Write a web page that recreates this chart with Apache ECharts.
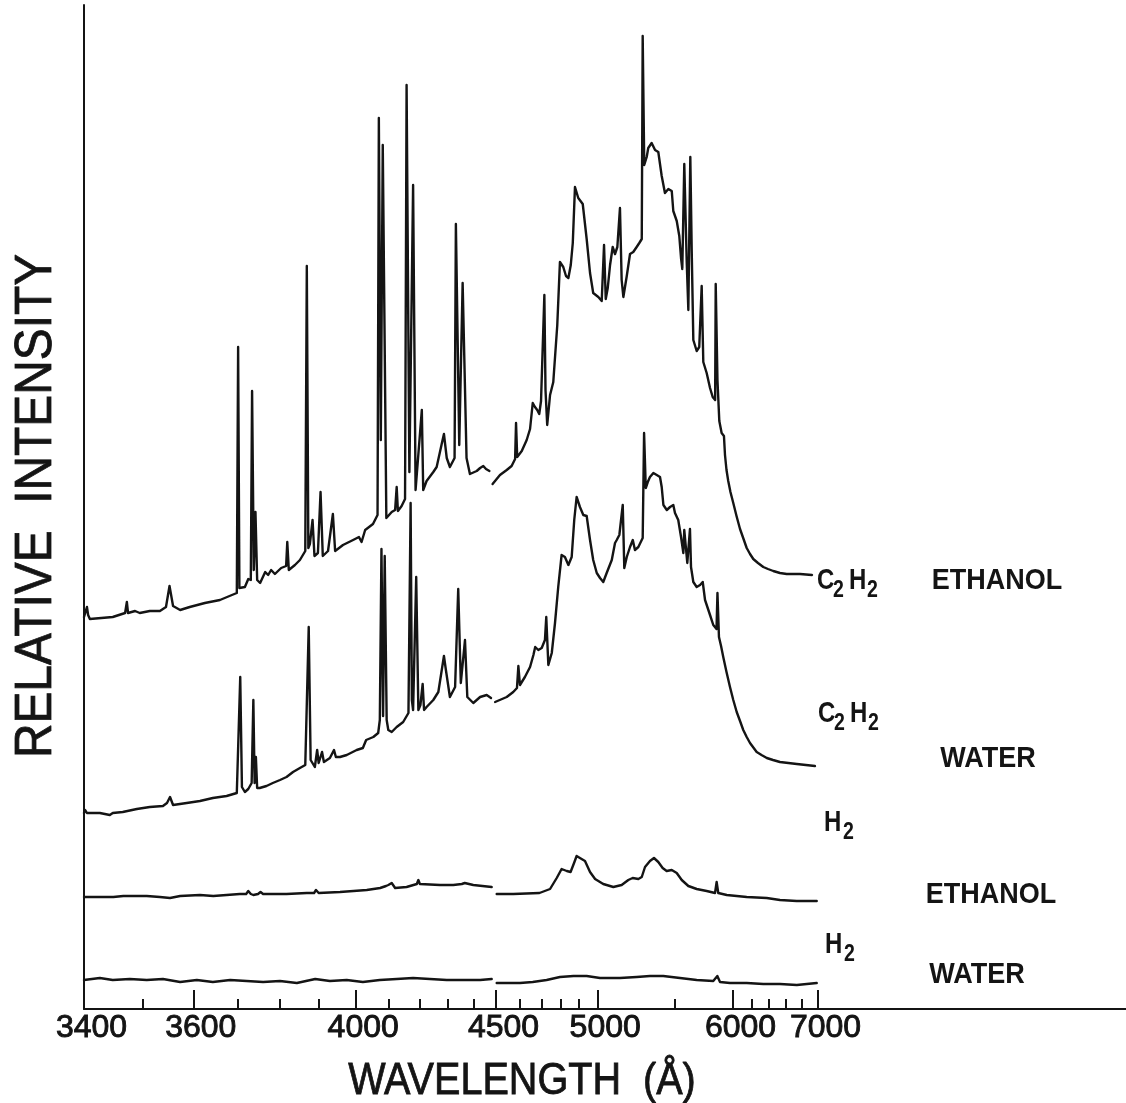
<!DOCTYPE html>
<html>
<head>
<meta charset="utf-8">
<script src="https://cdn.jsdelivr.net/npm/echarts@6/dist/echarts.min.js"></script>
<style>
  html, body { margin: 0; padding: 0; background: #ffffff; }
  #chart { width: 1126px; height: 1103px; }
</style>
</head>
<body>
<div id="chart"></div>
<script>
// Spectrometer dispersion: wavelength (Å) against distance along the recorder chart.
const dispersionWavelength = [3400, 3500, 3600, 3700, 3800, 3900, 4000, 4100, 4200, 4300, 4400, 4500,
  4600, 4700, 4800, 4900, 5000, 5500, 6000, 6200, 6400, 6600, 6800, 7000];
const dispersionDistance = [0, 58.7, 109.3, 153.7, 196, 234.3, 271.7, 304.3, 335.3, 363.3, 389.3, 412,
  435.3, 457.7, 476.7, 495, 513.7, 591, 649, 667.5, 684.5, 701.5, 718, 734];

// Tick marks on the wavelength axis
const labelledTicks = [3400, 3600, 4000, 4500, 5000, 6000, 7000];
const minorTicks = [3500, 3700, 3800, 3900, 4100, 4200, 4300, 4400, 4600, 4700, 4800, 4900,
  5500, 6200, 6400, 6600, 6800];

// Emission spectra, [wavelength Å, relative intensity]; each trace was recorded
// in two scans (below and above 4500 Å), each set on its own offset.
const c2h2EthanolShort = [[3400,39.2],[3405,40.2],[3407,39.4],[3410,39.0],[3449,39.2],[3470,39.6],[3473,40.7],[3475,39.6],[3487,39.8],[3495,39.6],[3514,39.8],[3534,39.8],[3546,40.2],[3553,42.3],[3556,42.3],[3560,40.3],[3574,39.9],[3593,40.2],[3626,40.6],[3660,40.9],[3687,41.4],[3698,41.6],[3701,66.2],[3704,42.1],[3717,42.2],[3725,43.0],[3731,42.9],[3734,61.8],[3738,43.9],[3742,49.7],[3746,42.9],[3753,42.6],[3765,43.7],[3772,43.4],[3779,43.9],[3788,43.5],[3803,44.1],[3816,44.3],[3819,46.7],[3823,43.9],[3839,44.4],[3852,44.9],[3866,45.8],[3870,74.3],[3874,46.1],[3878,46.5],[3885,48.9],[3890,45.3],[3899,45.6],[3906,51.7],[3912,45.3],[3926,45.8],[3939,49.5],[3945,45.8],[3966,46.4],[3993,46.9],[4010,47.2],[4018,46.7],[4029,47.9],[4053,48.5],[4067,49.4],[4071,89.1],[4077,56.9],[4083,86.4],[4094,49.1],[4111,49.7],[4122,49.9],[4127,52.2],[4131,49.8],[4143,50.3],[4154,51.0],[4159,92.4],[4168,53.7],[4180,82.4],[4188,51.9],[4193,51.9],[4209,59.9],[4214,51.9],[4226,52.8],[4250,53.7],[4262,54.2],[4280,56.5],[4288,57.5],[4298,55.1],[4310,54.2],[4328,55.1],[4333,78.5],[4346,56.4],[4359,72.6],[4374,55.1],[4387,53.5],[4415,53.8],[4430,54.1],[4444,54.3],[4456,54.0],[4471,53.8]];
const c2h2EthanolLong = [[4485,52.5],[4517,53.4],[4546,53.9],[4567,54.3],[4582,55.0],[4586,58.6],[4591,55.2],[4611,55.8],[4633,56.9],[4648,58.0],[4660,60.6],[4670,60.2],[4680,59.9],[4689,59.5],[4697,60.8],[4714,71.4],[4720,61.9],[4729,58.4],[4744,61.4],[4761,62.7],[4782,68.4],[4796,74.7],[4814,74.2],[4829,73.3],[4842,73.1],[4855,74.4],[4866,76.6],[4878,82.2],[4896,81.1],[4920,80.5],[4941,77.0],[4959,73.6],[4976,71.6],[5004,71.2],[5026,70.8],[5041,76.4],[5052,71.0],[5065,72.1],[5080,74.4],[5097,76.2],[5112,75.5],[5127,76.2],[5144,80.1],[5155,72.9],[5166,71.2],[5188,73.3],[5209,75.5],[5230,75.7],[5252,76.2],[5269,76.6],[5285,77.0],[5291,97.3],[5301,84.4],[5317,85.2],[5327,86.1],[5349,86.6],[5371,85.9],[5392,85.7],[5414,83.3],[5435,81.6],[5457,82.0],[5479,81.8],[5489,79.8],[5515,78.8],[5537,77.3],[5552,75.1],[5563,74.0],[5580,84.5],[5601,74.7],[5615,69.9],[5632,85.2],[5644,75.9],[5658,66.9],[5687,65.8],[5709,66.2],[5730,72.3],[5744,64.7],[5773,63.6],[5802,62.1],[5825,61.2],[5846,60.9],[5851,72.5],[5866,62.9],[5882,58.8],[5902,57.6],[5922,57.3],[5931,55.4],[5944,53.9],[5959,52.8],[5978,51.7],[6003,50.6],[6038,49.3],[6076,48.0],[6114,47.0],[6148,46.1],[6184,45.5],[6221,45.0],[6276,44.6],[6339,44.2],[6394,44.0],[6456,43.8],[6535,43.6],[6615,43.5],[6776,43.5],[6925,43.4]];

const c2h2WaterShort = [[3400,19.6],[3402,19.9],[3405,19.6],[3415,19.6],[3427,19.6],[3444,19.4],[3449,19.6],[3466,19.7],[3490,20.0],[3514,20.2],[3540,20.3],[3548,20.6],[3554,21.2],[3560,20.4],[3587,20.6],[3615,20.8],[3644,21.1],[3675,21.3],[3698,21.6],[3706,33.2],[3710,22.2],[3717,21.7],[3725,22.0],[3733,22.6],[3737,30.9],[3740,22.6],[3743,25.2],[3746,22.1],[3752,22.1],[3768,22.3],[3783,22.6],[3800,22.9],[3817,23.2],[3834,23.7],[3852,24.1],[3866,24.4],[3875,38.2],[3880,24.9],[3883,24.7],[3891,24.2],[3897,25.9],[3901,24.6],[3905,24.6],[3910,25.7],[3915,24.7],[3931,25.1],[3942,25.9],[3947,25.2],[3958,25.2],[3976,25.4],[4003,25.9],[4022,26.1],[4032,26.9],[4054,27.2],[4069,27.6],[4074,28.9],[4079,46.0],[4084,29.3],[4089,45.3],[4095,28.9],[4100,27.9],[4111,27.7],[4127,28.2],[4148,28.7],[4165,29.6],[4168,29.7],[4172,50.6],[4176,30.9],[4180,29.9],[4190,43.2],[4197,29.9],[4204,30.4],[4212,32.5],[4217,29.9],[4226,30.2],[4250,30.9],[4268,31.7],[4288,35.3],[4295,33.9],[4310,31.2],[4330,32.2],[4342,42.0],[4352,32.6],[4368,36.9],[4377,31.2],[4400,30.6],[4430,31.2],[4459,31.4],[4478,31.1]];
const c2h2WaterLong = [[4496,30.7],[4546,31.2],[4574,31.7],[4590,32.1],[4596,34.3],[4603,32.4],[4625,33.2],[4648,34.2],[4663,35.4],[4671,36.2],[4685,35.9],[4700,36.1],[4717,36.9],[4724,39.2],[4735,34.4],[4753,35.6],[4770,38.6],[4787,42.2],[4805,45.4],[4823,45.2],[4842,44.4],[4860,45.2],[4874,48.9],[4887,51.2],[4905,50.2],[4923,49.4],[4941,49.3],[4959,46.9],[4976,44.9],[4995,43.6],[5015,43.1],[5036,42.7],[5058,43.6],[5091,44.9],[5112,46.6],[5123,46.9],[5140,47.4],[5162,50.4],[5172,44.1],[5188,45.2],[5209,46.2],[5227,46.9],[5241,45.9],[5263,46.2],[5291,47.1],[5300,57.6],[5311,52.1],[5324,52.7],[5338,53.2],[5360,53.6],[5382,53.4],[5403,53.2],[5414,52.2],[5425,50.4],[5447,49.9],[5468,50.2],[5489,50.4],[5500,49.6],[5528,48.9],[5552,47.2],[5572,45.6],[5580,47.9],[5606,44.6],[5629,48.0],[5638,44.2],[5658,42.7],[5687,42.2],[5716,42.4],[5739,42.7],[5759,40.9],[5802,39.4],[5830,38.4],[5858,38.0],[5866,41.6],[5879,37.2],[5897,36.3],[5916,35.2],[5944,33.7],[5974,32.2],[6003,30.9],[6040,29.7],[6076,28.8],[6111,27.9],[6148,27.2],[6184,26.6],[6261,25.7],[6318,25.4],[6380,25.1],[6453,24.9],[6535,24.7],[6737,24.5],[6962,24.3]];

const h2EthanolShort = [[3400,11.2],[3427,11.2],[3450,11.2],[3467,11.3],[3508,11.3],[3534,11.2],[3554,11.1],[3574,11.3],[3615,11.4],[3645,11.3],[3675,11.4],[3705,11.5],[3720,11.5],[3725,11.8],[3731,11.5],[3737,11.4],[3748,11.5],[3754,11.7],[3760,11.5],[3768,11.5],[3817,11.5],[3870,11.6],[3889,11.6],[3894,11.9],[3901,11.6],[3905,11.6],[3958,11.7],[3994,11.8],[4034,11.9],[4075,12.1],[4093,12.3],[4100,12.4],[4111,12.6],[4122,12.1],[4159,12.2],[4192,12.5],[4197,12.9],[4202,12.5],[4274,12.4],[4323,12.4],[4356,12.5],[4367,12.6],[4400,12.4],[4481,12.2]];
const h2EthanolLong = [[4503,11.5],[4574,11.5],[4690,11.6],[4744,12.0],[4779,13.1],[4805,14.0],[4833,13.8],[4854,13.7],[4873,14.6],[4887,15.3],[4905,15.1],[4932,14.8],[4959,13.7],[4986,13.0],[5036,12.5],[5101,12.2],[5155,12.4],[5198,12.9],[5226,13.1],[5263,13.0],[5285,13.2],[5306,14.2],[5338,14.8],[5364,15.1],[5392,14.7],[5420,14.1],[5446,13.8],[5479,13.9],[5515,13.6],[5558,12.9],[5615,12.3],[5687,12.0],[5773,11.8],[5845,11.6],[5859,12.7],[5873,11.6],[5946,11.4],[6148,11.2],[6379,11.1],[6535,10.9],[6736,10.8],[6984,10.8]];

const h2WaterShort = [[3400,2.9],[3427,3.1],[3449,2.9],[3478,3.0],[3508,2.9],[3540,3.0],[3574,2.7],[3608,2.9],[3644,2.7],[3683,2.9],[3721,2.8],[3760,2.7],[3800,2.8],[3844,2.6],[3892,3.0],[3931,2.8],[3976,2.9],[4022,2.7],[4074,2.9],[4127,3.0],[4180,3.1],[4238,3.0],[4298,2.9],[4360,2.9],[4430,2.9],[4481,3.0]];
const h2WaterLong = [[4503,2.6],[4603,2.6],[4660,2.7],[4726,2.9],[4796,3.2],[4870,3.3],[4941,3.3],[5015,3.1],[5144,3.1],[5252,3.2],[5338,3.3],[5424,3.3],[5543,3.1],[5687,2.9],[5830,2.8],[5865,3.3],[5888,2.7],[5974,2.6],[6148,2.6],[6339,2.5],[6535,2.5],[6737,2.4],[6984,2.6]];

// Wavelength -> chart distance by piecewise-linear interpolation of the dispersion table
function toScale(w) {
  const W = dispersionWavelength, D = dispersionDistance, n = W.length;
  let i = 0;
  if (w >= W[n - 1]) i = n - 2;
  else while (i < n - 2 && w > W[i + 1]) i++;
  return D[i] + (w - W[i]) * (D[i + 1] - D[i]) / (W[i + 1] - W[i]);
}

const INK = '#141414';
const FONT = '"Liberation Sans", Arial, Helvetica, sans-serif';

function traceSeries(name, data) {
  return {
    name: name,
    type: 'line',
    data: data.map(function (p) { return [toScale(p[0]), p[1]]; }),
    showSymbol: false,
    symbol: 'none',
    silent: true,
    animation: false,
    lineStyle: { color: INK, width: 2.4, join: 'round', cap: 'round' },
    z: 3
  };
}

function tickLabel(value) {
  for (let i = 0; i < labelledTicks.length; i++) {
    if (Math.abs(toScale(labelledTicks[i]) - value) < 0.5) return String(labelledTicks[i]);
  }
  return '';
}

function text(str, x, y, size, opts) {
  opts = opts || {};
  const style = {
    text: str,
    font: (opts.weight || 'normal') + ' ' + size + 'px ' + FONT,
    fill: INK,
    align: opts.align || 'left', textAlign: opts.align || 'left',
    verticalAlign: 'middle', textVerticalAlign: 'middle'
  };
  if (opts.stroke) { style.stroke = INK; style.lineWidth = opts.stroke; }
  return {
    type: 'text',
    x: x, y: y,
    rotation: opts.rotation || 0,
    scaleX: opts.scaleX || 1,
    silent: true,
    style: style
  };
}

// Molecular formula with subscripted digits, starting at x, cap centre at y
function formula(parts, x, y) {
  const els = [];
  parts.forEach(function (p) {
    if (p.sub) els.push(text(p.t, x + p.dx, y + 10, 23, { weight: 'bold', scaleX: 0.85 }));
    else els.push(text(p.t, x + p.dx, y, 30, { weight: 'bold', scaleX: 0.8 }));
  });
  return els;
}

const C2H2 = [{ t: 'C', dx: 0 }, { t: '2', dx: 16, sub: true }, { t: 'H', dx: 32 }, { t: '2', dx: 50, sub: true }];
const H2 = [{ t: 'H', dx: 0 }, { t: '2', dx: 19, sub: true }];

const chart = echarts.init(document.getElementById('chart'), null, { renderer: 'canvas' });

const axisMax = 1042;
const labelledPos = labelledTicks.map(toScale);
const minorPos = minorTicks.map(toScale);

chart.setOption({
  backgroundColor: '#ffffff',
  animation: false,
  grid: { left: 84, right: 0, top: 5, bottom: 94, containLabel: false },
  xAxis: [
    {
      type: 'value', position: 'bottom', min: 0, max: axisMax,
      axisLine: { show: true, onZero: false, lineStyle: { color: INK, width: 2 } },
      axisTick: { show: true, inside: true, length: 19, customValues: labelledPos,
        lineStyle: { color: INK, width: 2 } },
      axisLabel: { show: true, customValues: labelledPos, formatter: tickLabel,
        color: INK, fontFamily: FONT, fontWeight: 'normal', fontSize: 32,
        textBorderColor: INK, textBorderWidth: 0.9,
        margin: 3, padding: [0, 0, 0, 15] },
      splitLine: { show: false }
    },
    {
      type: 'value', position: 'bottom', min: 0, max: axisMax,
      axisLine: { show: false, onZero: false },
      axisTick: { show: true, inside: true, length: 10, customValues: minorPos,
        lineStyle: { color: INK, width: 2 } },
      axisLabel: { show: false },
      splitLine: { show: false }
    }
  ],
  yAxis: {
    type: 'value', min: 0, max: 100.4,
    axisLine: { show: true, lineStyle: { color: INK, width: 2 } },
    axisTick: { show: false },
    axisLabel: { show: false },
    splitLine: { show: false }
  },
  series: [
    traceSeries('C2H2 ethanol < 4500', c2h2EthanolShort),
    traceSeries('C2H2 ethanol > 4500', c2h2EthanolLong),
    traceSeries('C2H2 water < 4500', c2h2WaterShort),
    traceSeries('C2H2 water > 4500', c2h2WaterLong),
    traceSeries('H2 ethanol < 4500', h2EthanolShort),
    traceSeries('H2 ethanol > 4500', h2EthanolLong),
    traceSeries('H2 water < 4500', h2WaterShort),
    traceSeries('H2 water > 4500', h2WaterLong)
  ],
  graphic: {
    elements: [
      text('RELATIVE  INTENSITY', 37, 506, 52, { rotation: Math.PI / 2, align: 'center', scaleX: 0.92, stroke: 0.8 }),
      text('WAVELENGTH  (\u00C5)', 522, 1082, 44, { align: 'center', scaleX: 0.9, stroke: 0.8 }),
      text('ETHANOL', 997, 581, 30, { weight: 'bold', align: 'center', scaleX: 0.9 }),
      text('WATER', 988, 759, 30, { weight: 'bold', align: 'center', scaleX: 0.9 }),
      text('ETHANOL', 991, 895, 30, { weight: 'bold', align: 'center', scaleX: 0.9 }),
      text('WATER', 977, 975, 30, { weight: 'bold', align: 'center', scaleX: 0.9 })
    ].concat(formula(C2H2, 817, 581))
     .concat(formula(C2H2, 818, 714))
     .concat(formula(H2, 824, 823))
     .concat(formula(H2, 825, 945))
  }
});
</script>
</body>
</html>
